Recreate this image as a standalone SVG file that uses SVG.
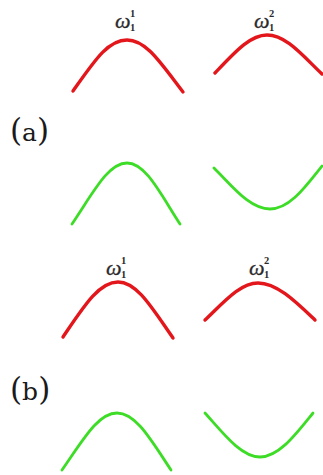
<svg xmlns="http://www.w3.org/2000/svg" width="323" height="475" viewBox="0 0 323 475">
<style>
.red{fill:none;stroke:#e3161b;stroke-width:3.4;stroke-linecap:round}
.grn{fill:none;stroke:#3ddc26;stroke-width:2.8;stroke-linecap:round}
.om{font-family:"Liberation Serif",serif;font-style:italic;font-size:22px;fill:#2a2a2a;stroke:#2a2a2a;stroke-width:0.3}
.ix{font-family:"Liberation Serif",serif;font-size:10.5px;font-weight:bold;fill:#2a2a2a}
.lab{font-family:"DejaVu Serif",serif;font-size:25px;fill:#1a1a1a}
.par{font-size:31px}
</style>
<rect width="323" height="475" fill="#fff"/>
<g id="panel-a">
<g id="a-red1"><path class="red" d="M73,91 C95,60 108,40 127,40 C146,40 160,62 183,92"/></g>
<g id="a-red2"><path class="red" d="M215,73 C235,52 250,35 267,35 C286,35 302,55 322,74"/></g>
<g id="a-w1"><text class="om" x="115" y="28">ω</text><text class="ix" x="130" y="17">1</text><text class="ix" x="130" y="31">1</text></g>
<g id="a-w2"><text class="om" x="254" y="28">ω</text><text class="ix" x="269" y="17">2</text><text class="ix" x="269" y="31">1</text></g>
<g id="a-label"><text class="lab" x="10" y="141"><tspan class="par">(</tspan>a<tspan class="par">)</tspan></text></g>
<g id="a-grn1"><path class="grn" d="M72,224 C93,193 108,163 127,163 C146,163 161,195 180,224"/></g>
<g id="a-grn2"><path class="grn" d="M214,168 C234,188 250,209 270,209 C290,209 306,186 322,166"/></g>
</g>
<g id="panel-b">
<g id="b-red1"><path class="red" d="M63,337 C84,306 99,282 118,282 C137,282 152,308 173,338"/></g>
<g id="b-red2"><path class="red" d="M205,320 C224,302 240,283 258,283 C277,283 296,302 315,320"/></g>
<g id="b-w1"><text class="om" x="106" y="275">ω</text><text class="ix" x="121" y="264">1</text><text class="ix" x="121" y="278">1</text></g>
<g id="b-w2"><text class="om" x="249" y="275">ω</text><text class="ix" x="264" y="264">2</text><text class="ix" x="264" y="278">1</text></g>
<g id="b-label"><text class="lab" x="10" y="400"><tspan class="par">(</tspan>b<tspan class="par">)</tspan></text></g>
<g id="b-grn1"><path class="grn" d="M62,470 C83,440 98,413 117,413 C136,413 151,440 171,470"/></g>
<g id="b-grn2"><path class="grn" d="M205,413 C223,433 241,457 260,457 C279,457 296,434 313,413"/></g>
</g>
</svg>
